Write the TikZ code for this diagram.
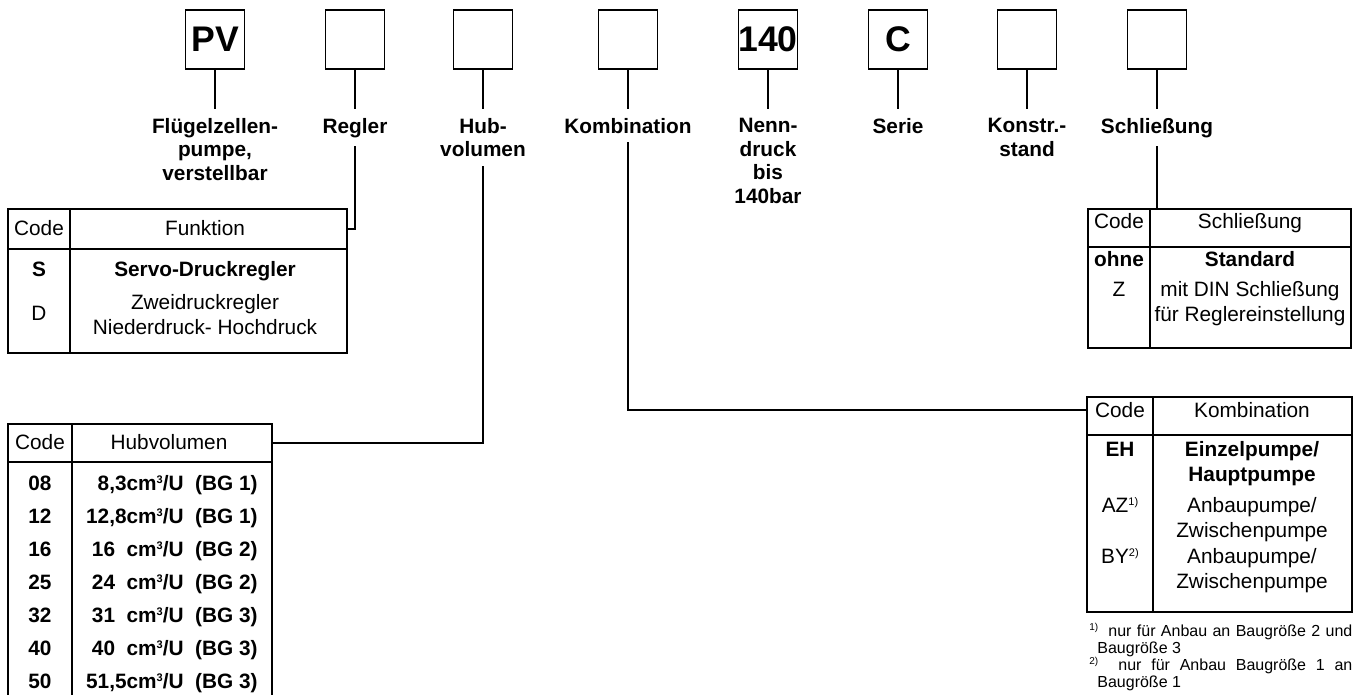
\documentclass[tikz,border=0pt]{standalone}
\usepackage{fontspec}
\setmainfont{Liberation Sans}
\usetikzlibrary{positioning}

\newcommand{\hochz}[1]{\raisebox{3.3pt}{\fontsize{5.5}{5.5}\selectfont #1}}
\newcommand{\fnmark}[1]{\raisebox{2.8pt}{\fontsize{5}{5}\selectfont #1}}

\tikzset{
  kbox/.style={draw, line width=0.6pt, minimum size=29.5pt, inner sep=0pt, outer sep=0pt,
    font=\fontsize{17.8}{20}\selectfont\bfseries},
  klab/.style={align=center, inner sep=0pt, outer ysep=4.5pt,
    font=\fontsize{10.4}{11.9}\selectfont\bfseries},
  conn/.style={line width=0.6pt},
  tline/.style={line width=0.6pt},
  ttxt/.style={inner sep=0pt, anchor=base, font=\fontsize{10.4}{12.5}\selectfont},
  tbold/.style={ttxt, font=\fontsize{10.4}{12.5}\selectfont\bfseries},
  fnote/.style={inner sep=0pt, anchor=base west, font=\fontsize{8}{8.5}\selectfont}
}

\begin{document}
\begin{tikzpicture}[x=0.5pt, y=-0.5pt]
  \useasboundingbox (0,0) rectangle (1361,695);

  % type code boxes
  \node[kbox] (pv)    at (215,39.5)  {PV};
  \node[kbox] (regl)  at (355,39.5)  {};
  \node[kbox] (hub)   at (483,39.5)  {};
  \node[kbox] (komb)  at (628,39.5)  {};
  \node[kbox] (druck) at (768,39.5)  {140};
  \node[kbox] (ser)   at (898,39.5)  {C};
  \node[kbox] (konst) at (1027,39.5) {};
  \node[kbox] (schl)  at (1157,39.5) {};

  % labels
  \node[klab, below=20pt of pv]    (pvL)    {Flügelzellen-\\pumpe,\\verstellbar};
  \node[klab, below=20pt of regl]  (reglL)  {Regler};
  \node[klab, below=20pt of hub]   (hubL)   {Hub-\\volumen};
  \node[klab, below=20pt of komb]  (kombL)  {Kombination};
  \node[klab, below=20pt of druck] (druckL) {Nenn-\\druck\\bis\\140bar};
  \node[klab, below=20pt of ser]   (serL)   {Serie};
  \node[klab, below=20pt of konst] (konstL) {Konstr.-\\stand};
  \node[klab, below=20pt of schl]  (schlL)  {Schließung};

  \foreach \b in {pv,regl,hub,komb,druck,ser,konst,schl}
    \draw[conn] (\b.south) -- (\b L.north);

  % table Funktion
  \coordinate (FnA) at (8,209);
  \coordinate (FnB) at (347,353);
  \coordinate (FnE) at (347,229);
  \draw[tline] (FnA) rectangle (FnB);
  \draw[tline] (70,209) -- (70,353);
  \draw[tline] (8,249) -- (347,249);
  \node[ttxt]  (fnC) at (39,235.5)  {Code};
  \node[ttxt]  (fnH) at (205,235.5) {Funktion};
  \node[tbold] (fnS) at (39,277)    {S};
  \node[tbold] (fnSt) at (205,277)  {Servo-Druckregler};
  \node[ttxt]  (fnD) at (39,320.5)  {D};
  \node[ttxt]  (fnDa) at (205,309.5) {Zweidruckregler};
  \node[ttxt]  (fnDb) at (205,334.5) {Niederdruck- Hochdruck};
  \draw[conn] (reglL.south) |- (FnE);

  % table Hubvolumen
  \coordinate (HvA) at (8,424);
  \coordinate (HvB) at (272,705);
  \coordinate (HvE) at (272,443);
  \draw[tline] (HvA) rectangle (HvB);
  \draw[tline] (72,424) -- (72,705);
  \draw[tline] (8,462) -- (272,462);
  \node[ttxt] (hvC) at (40,450)  {Code};
  \node[ttxt] (hvH) at (169,450) {Hubvolumen};
  \foreach \c/\v/\g [count=\i from 0] in {08/{8,3}/1, 12/{12,8}/1, 16/{16\ \ }/2,
      25/{24\ \ }/2, 32/{31\ \ }/3, 40/{40\ \ }/3, 50/{51,5}/3} {
    \node[tbold] (hvc\i) at (40,490+33*\i) {\c};
    \node[tbold, anchor=base east] (hvv\i) at (258,490+33*\i)
      {\v cm\hochz{3}/U\ \ (BG \g)};
  }
  \draw[conn] (hubL.south) |- (HvE);

  % table Schliessung
  \coordinate (ScA) at (1088,209);
  \coordinate (ScB) at (1351,348);
  \draw[tline] (ScA) rectangle (ScB);
  \draw[tline] (1150,209) -- (1150,348);
  \draw[tline] (1088,247) -- (1351,247);
  \node[ttxt]  (scC) at (1119,229)  {Code};
  \node[ttxt]  (scH) at (1250,229)  {Schließung};
  \node[tbold] (scO) at (1119,267)  {ohne};
  \node[tbold] (scOt) at (1250,267) {Standard};
  \node[ttxt]  (scZ) at (1119,297)  {Z};
  \node[ttxt]  (scZa) at (1250,297) {mit DIN Schließung};
  \node[ttxt]  (scZb) at (1250,322) {für Reglereinstellung};
  \draw[conn] (schlL.south) -- (schlL.south |- ScA);

  % table Kombination
  \coordinate (KbA) at (1087,397);
  \coordinate (KbB) at (1352,612);
  \coordinate (KbW) at (1087,410);
  \draw[tline] (KbA) rectangle (KbB);
  \draw[tline] (1153,397) -- (1153,612);
  \draw[tline] (1087,435) -- (1352,435);
  \node[ttxt]  (kbC) at (1120,417)  {Code};
  \node[ttxt]  (kbH) at (1252,417)  {Kombination};
  \node[tbold] (kbE) at (1120,457)  {EH};
  \node[tbold] (kbEa) at (1252,457) {Einzelpumpe/};
  \node[tbold] (kbEb) at (1252,481) {Hauptpumpe};
  \node[ttxt]  (kbA) at (1120,512)  {AZ\hochz{1)}};
  \node[ttxt]  (kbAa) at (1252,512) {Anbaupumpe/};
  \node[ttxt]  (kbAb) at (1252,537) {Zwischenpumpe};
  \node[ttxt]  (kbB) at (1120,563)  {BY\hochz{2)}};
  \node[ttxt]  (kbBa) at (1252,563) {Anbaupumpe/};
  \node[ttxt]  (kbBb) at (1252,588) {Zwischenpumpe};
  \draw[conn] (kombL.south) |- (KbW);

  % footnotes
  \node[fnote] (fn1) at (1089,636) {\fnmark{1)}};
  \node[fnote] (fn1a) at (1108,636) {\makebox[122pt][s]{nur für Anbau an Baugröße 2 und}};
  \node[fnote] (fn1b) at (1097,653) {Baugröße 3};
  \node[fnote] (fn2) at (1089,670) {\fnmark{2)}};
  \node[fnote] (fn2a) at (1118,670) {\makebox[117pt][s]{nur für Anbau Baugröße 1 an}};
  \node[fnote] (fn2b) at (1097,687) {Baugröße 1};
\end{tikzpicture}
\end{document}
